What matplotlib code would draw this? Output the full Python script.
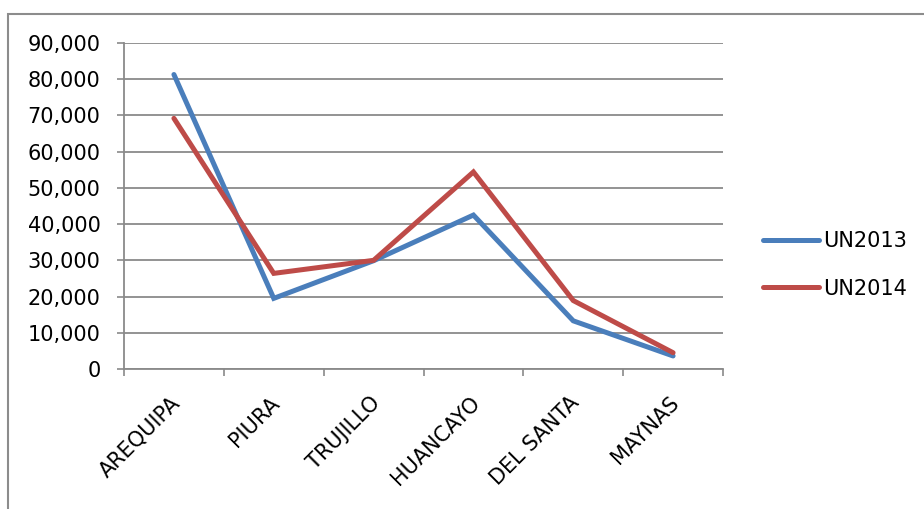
import matplotlib
matplotlib.use("Agg")
import matplotlib.pyplot as plt
import matplotlib.transforms as mtransforms
from matplotlib.patches import Rectangle
from matplotlib.ticker import FuncFormatter

categories = ["AREQUIPA", "PIURA", "TRUJILLO", "HUANCAYO", "DEL SANTA", "MAYNAS"]
un2013 = [81300, 19500, 29900, 42500, 13300, 3600]
un2014 = [69200, 26400, 30000, 54400, 18900, 4500]

BLUE = "#4A7EBB"
RED = "#BE4B48"
GRID = "#8A8A8A"
FS = 15

plt.rcParams['font.family'] = ['DejaVu Sans']

fig = plt.figure(figsize=(9.24, 5.09), dpi=100)
ax = fig.add_axes([124 / 924, 1 - 369 / 509, (723 - 124) / 924, (369 - 43) / 509])

x = list(range(len(categories)))
ax.plot(x, un2013, color=BLUE, lw=3.6, solid_capstyle='round',
        solid_joinstyle='miter', label="UN2013", zorder=3)
ax.plot(x, un2014, color=RED, lw=3.6, solid_capstyle='round',
        solid_joinstyle='miter', label="UN2014", zorder=3)

ax.set_xlim(-0.5, len(categories) - 0.5)
ax.set_ylim(0, 90000)
ax.set_yticks(range(0, 90001, 10000))
ax.yaxis.set_major_formatter(FuncFormatter(lambda v, p: f"{int(v):,}"))
ax.yaxis.grid(True, color=GRID, lw=1.3)
ax.set_axisbelow(True)

# ticks between categories, labels on categories
ax.set_xticks([i - 0.5 for i in range(len(categories) + 1)])
ax.set_xticklabels([])
ax.set_xticks(x, minor=True)
ax.set_xticklabels(categories, minor=True, rotation=45, ha='right',
                   rotation_mode='anchor', fontsize=FS)
ax.tick_params(axis='x', which='minor', length=0, pad=0)
ax.tick_params(axis='x', which='major', length=5, width=1.2, color=GRID)
ax.tick_params(axis='y', length=5, width=1.2, color=GRID, labelsize=FS, pad=12)

offset = mtransforms.ScaledTranslation(3 / 100, -31 / 100, fig.dpi_scale_trans)
for lab in ax.get_xticklabels(minor=True):
    lab.set_transform(lab.get_transform() + offset)
    lab.set_va('center')

for s in ["top", "right"]:
    ax.spines[s].set_visible(False)
for s in ["left", "bottom"]:
    ax.spines[s].set_color(GRID)
    ax.spines[s].set_linewidth(1.3)

ax.legend(loc='center left', bbox_to_anchor=(763 / 924, 1 - 265 / 509),
          bbox_transform=fig.transFigure, frameon=False, fontsize=FS,
          handlelength=2.7, handletextpad=0.2, labelspacing=1.3,
          borderpad=0, borderaxespad=0)

fig.patches.append(Rectangle((8 / 924, -0.1), 1.2, 0.1 + 1 - 14 / 509,
                             transform=fig.transFigure, fill=False,
                             edgecolor="#8C8C8C", lw=1.5))

fig.savefig("out.png", dpi=100)
